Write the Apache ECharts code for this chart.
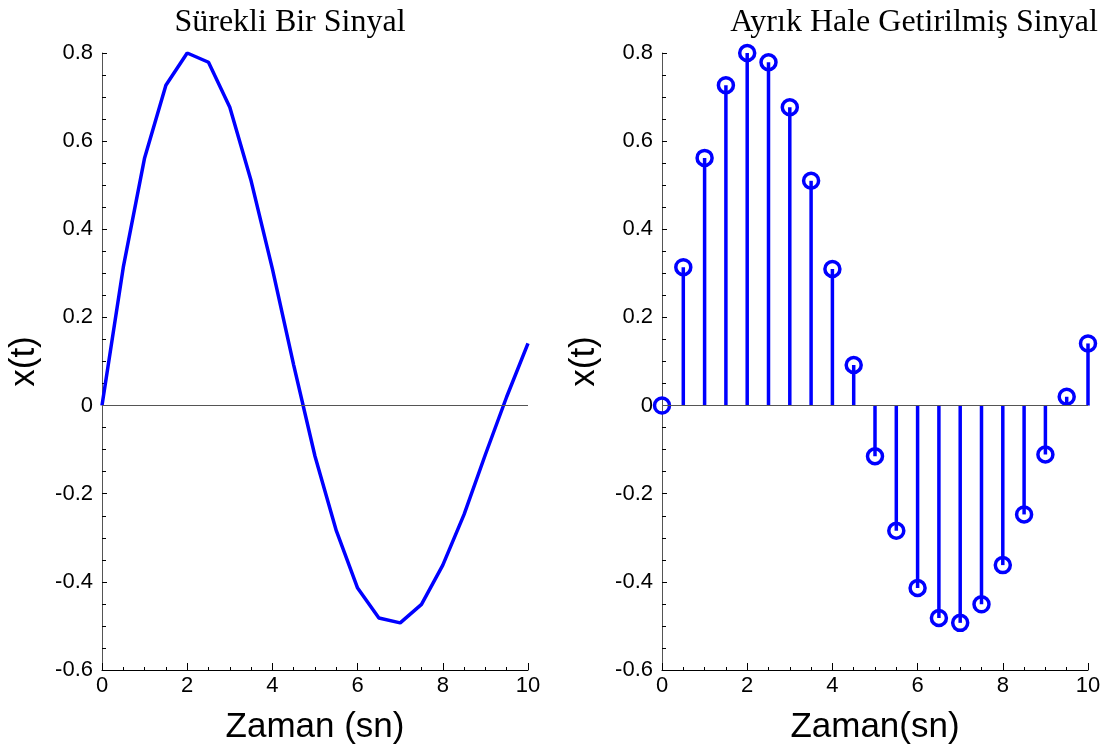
<!DOCTYPE html>
<html>
<head>
<meta charset="utf-8">
<script src="https://cdn.jsdelivr.net/npm/echarts@6/dist/echarts.min.js"></script>
<style>
html,body{margin:0;padding:0;background:#fff;}
#c{width:1118px;height:754px;}
</style>
</head>
<body>
<div id="c"></div>
<script>
const times = [0,0.5,1,1.5,2,2.5,3,3.5,4,4.5,5,5.5,6,6.5,7,7.5,8,8.5,9,9.5,10];
const signal = [0,0.314,0.562,0.727,0.800,0.779,0.677,0.510,0.310,0.092,-0.115,-0.284,-0.414,-0.482,-0.493,-0.451,-0.362,-0.247,-0.111,0.020,0.141];
const leftTitle = 'Sürekli Bir Sinyal';
const rightTitle = 'Ayrık Hale Getirilmiş Sinyal';
const leftXName = 'Zaman (sn)';
const rightXName = 'Zaman(sn)';
const yName = 'x(t)';

const pts = times.map((t,i)=>[t, signal[i]]);
const BLUE = '#0000ff';
const font = 'Liberation Sans, Arial, sans-serif';

function xAxis(idx, name){
  return {
    type:'value', gridIndex:idx, min:0, max:10, interval:2,
    name:name, nameLocation:'middle', nameGap:40,
    nameTextStyle:{fontFamily:font, fontSize:35, color:'#000'},
    axisLine:{show:true, onZero:false, lineStyle:{color:'#000', width:1}},
    axisTick:{show:true, inside:true, length:7, lineStyle:{color:'#000'}},
    minorTick:{show:true, splitNumber:4, length:3, lineStyle:{color:'#000'}},
    axisLabel:{fontFamily:font, fontSize:22, color:'#000', margin:5},
    splitLine:{show:false}
  };
}
function yAxis(idx){
  return {
    type:'value', gridIndex:idx, min:-0.6, max:0.8, interval:0.2,
    name:yName, nameLocation:'middle', nameGap:60,
    nameTextStyle:{fontFamily:font, fontSize:35, color:'#000'},
    axisLine:{show:true, onZero:false, lineStyle:{color:'#555', width:1}},
    axisTick:{show:true, inside:true, length:5, lineStyle:{color:'#000'}},
    minorTick:{show:true, splitNumber:4, length:4, lineStyle:{color:'#000'}},
    axisLabel:{fontFamily:font, fontSize:22, color:'#000', margin:9,
      formatter:v=>{const r=Math.round(v*10)/10; return r===0?'0':String(r);}},
    splitLine:{show:false}
  };
}
const zeroLine = {silent:true, symbol:'none', label:{show:false},
  lineStyle:{color:'#555', width:1, type:'solid'}, data:[{yAxis:0}]};

const chart = echarts.init(document.getElementById('c'), null, {renderer:'canvas'});
chart.setOption({
  animation:false,
  backgroundColor:'#fff',
  title:[
    {text:leftTitle, left:285, top:2, textAlign:'center',
      textStyle:{fontFamily:'Liberation Serif, Times New Roman, serif', fontSize:32, fontWeight:'normal', color:'#000'}},
    {text:rightTitle, left:909, top:2, textAlign:'center',
      textStyle:{fontFamily:'Liberation Serif, Times New Roman, serif', fontSize:32, fontWeight:'normal', color:'#000'}}
  ],
  grid:[
    {left:102, right:590, top:53, bottom:84},
    {left:662, right:30, top:53, bottom:84}
  ],
  xAxis:[xAxis(0,leftXName), xAxis(1,rightXName)],
  yAxis:[yAxis(0), yAxis(1)],
  series:[
    {type:'line', xAxisIndex:0, yAxisIndex:0, data:pts, symbol:'none',
      lineStyle:{color:BLUE, width:3.5}, z:3, markLine:zeroLine},
    {type:'custom', xAxisIndex:1, yAxisIndex:1, data:pts, z:3,
      renderItem:function(params, api){
        const p0 = api.coord([api.value(0), 0]);
        const p1 = api.coord([api.value(0), api.value(1)]);
        return {type:'line', shape:{x1:p0[0], y1:p0[1], x2:p1[0], y2:p1[1]},
          style:{stroke:BLUE, lineWidth:3.5}};
      }, markLine:zeroLine},
    {type:'scatter', xAxisIndex:1, yAxisIndex:1, data:pts, symbol:'circle', symbolSize:15, z:4,
      itemStyle:{color:'rgba(0,0,0,0)', borderColor:BLUE, borderWidth:3.5, opacity:1}}
  ]
});
</script>
</body>
</html>
